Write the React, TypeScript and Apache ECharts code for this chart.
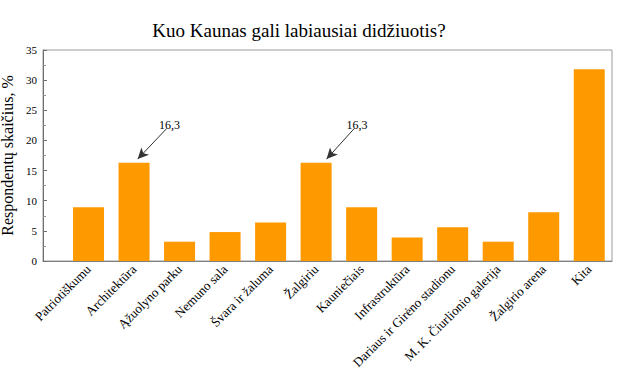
import React, { useEffect, useRef } from "react";
import * as echarts from "echarts";

const categories = [
  "Patriotiškumu",
  "Architektūra",
  "Ąžuolyno parku",
  "Nemuno sala",
  "Švara ir žaluma",
  "Žalgiriu",
  "Kauniečiais",
  "Infrastruktūra",
  "Dariaus ir Girėno stadionu",
  "M. K. Čiurlionio galerija",
  "Žalgirio arena",
  "Kita",
];
const values = [8.9, 16.3, 3.2, 4.8, 6.4, 16.3, 8.9, 3.9, 5.6, 3.2, 8.1, 31.8];
const yTicks = [0, 5, 10, 15, 20, 25, 30, 35];
// annotation arrows: [startX, startY, endX, endY, label]
const annotations: [number, number, number, number, string][] = [
  [2.72, 22.0, 2.08, 16.9, "16,3"],
  [6.84, 22.0, 6.23, 16.9, "16,3"],
];

const FONT = "'Liberation Serif', 'Times New Roman', serif";

export default function App() {
  const ref = useRef<HTMLDivElement>(null);
  useEffect(() => {
    document.body.style.margin = "0";
    if (!ref.current) return;
    const chart = echarts.init(ref.current, undefined, { renderer: "svg" });
    chart.setOption({
      animation: false,
      textStyle: { fontFamily: FONT },
      title: {
        text: "Kuo Kaunas gali labiausiai didžiuotis?",
        left: 294,
        textAlign: "center",
        top: 16,
        textStyle: { fontFamily: FONT, fontSize: 19, fontWeight: "normal", color: "#000" },
      },
      grid: {
        left: 43,
        right: 5,
        top: 50,
        bottom: 109,
        show: true,
        borderColor: "#9a9a9a",
        borderWidth: 1,
        backgroundColor: "transparent",
        containLabel: false,
        outerBoundsMode: "none",
      },
      xAxis: {
        type: "value",
        min: 0,
        max: 12.5,
        interval: 1,
        splitLine: { show: false },
        axisTick: { show: false },
        axisLine: { show: true, lineStyle: { color: "#808080" } },
        axisLabel: {
          rotate: 45,
          margin: 6,
          fontFamily: FONT,
          fontSize: 13,
          color: "#000",
          showMinLabel: true,
          showMaxLabel: true,
          hideOverlap: false,
          formatter: (v: number) =>
            Number.isInteger(v) && v >= 1 && v <= categories.length ? categories[v - 1] : "",
        },
      },
      yAxis: {
        type: "value",
        min: yTicks[0],
        max: yTicks[yTicks.length - 1],
        interval: 5,
        name: "Respondentų skaičius, %",
        nameLocation: "middle",
        nameGap: 24,
        nameTextStyle: { fontFamily: FONT, fontSize: 16, color: "#000" },
        splitLine: { show: false },
        axisLine: { show: true, lineStyle: { color: "#707070" } },
        axisTick: { show: true, inside: true, length: 4, lineStyle: { color: "#707070" } },
        minorTick: { show: true, splitNumber: 2, length: 3, lineStyle: { color: "#909090" } },
        axisLabel: { fontFamily: FONT, fontSize: 11, color: "#000", margin: 6 },
      },
      series: [
        {
          type: "bar",
          barWidth: 31,
          itemStyle: { color: "#FF9900" },
          data: values.map((v, i) => [i + 1, v]),
          markLine: {
            silent: true,
            symbol: ["none", "arrow"],
            symbolSize: [8, 11],
            lineStyle: { color: "#333", width: 1, type: "solid" },
            label: {
              show: true,
              position: "start",
              distance: 4,
              fontFamily: FONT,
              fontSize: 12,
              color: "#000",
            },
            data: annotations.map(([x1, y1, x2, y2, t]) => [
              { coord: [x1, y1], label: { formatter: t } },
              { coord: [x2, y2] },
            ]),
          },
        },
      ],
    });
    return () => chart.dispose();
  }, []);
  return <div ref={ref} style={{ width: 617, height: 370 }} />;
}
